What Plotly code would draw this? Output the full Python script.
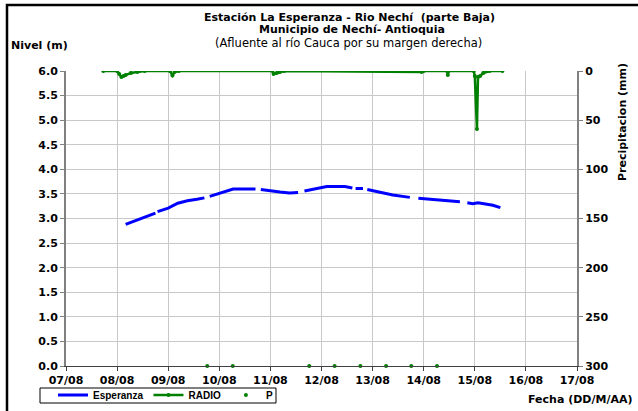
import plotly.graph_objects as go

# ---- Data ----
esp_time = [
    "2018-08-08 04:00", "2018-08-08 12:00", "2018-08-08 18:00", None,
    "2018-08-08 19:00", "2018-08-09 00:00", "2018-08-09 04:30", "2018-08-09 09:00",
    "2018-08-09 13:30", "2018-08-09 17:00", None,
    "2018-08-09 19:30", "2018-08-10 00:00", "2018-08-10 06:30", "2018-08-10 12:00",
    "2018-08-10 17:00", None,
    "2018-08-10 19:30", "2018-08-11 00:00", "2018-08-11 04:30", "2018-08-11 09:00",
    "2018-08-11 13:00", None,
    "2018-08-11 16:00", "2018-08-11 20:00", "2018-08-12 02:30", "2018-08-12 11:00",
    "2018-08-12 14:30", None,
    "2018-08-12 16:00", "2018-08-12 19:30", None,
    "2018-08-12 21:30", "2018-08-13 02:00", "2018-08-13 09:30", "2018-08-13 17:30", None,
    "2018-08-13 21:30", "2018-08-14 03:00", "2018-08-14 07:30", "2018-08-14 12:30",
    "2018-08-14 17:00", None,
    "2018-08-14 20:30", "2018-08-14 23:00", "2018-08-15 01:30", "2018-08-15 05:30",
    "2018-08-15 08:30", "2018-08-15 12:00",
]
esp_level = [
    2.88, 3.02, 3.11, None,
    3.14, 3.21, 3.31, 3.36, 3.39, 3.42, None,
    3.45, 3.51, 3.60, 3.60, 3.60, None,
    3.59, 3.56, 3.54, 3.52, 3.53, None,
    3.56, 3.60, 3.65, 3.65, 3.62, None,
    3.61, 3.61, None,
    3.59, 3.55, 3.48, 3.43, None,
    3.41, 3.39, 3.38, 3.37, 3.34, None,
    3.32, 3.30, 3.32, 3.30, 3.27, 3.22,
]

radio_time = [
    "2018-08-07 17:30", "2018-08-08 00:00", "2018-08-08 01:00", "2018-08-08 02:00",
    "2018-08-08 03:00", "2018-08-08 04:00", "2018-08-08 06:30", "2018-08-08 09:30",
    "2018-08-08 13:00", "2018-08-09 00:50", "2018-08-09 02:00", "2018-08-09 03:00",
    "2018-08-09 05:00", "2018-08-11 01:00", "2018-08-11 01:30", "2018-08-11 03:00",
    "2018-08-11 04:30", "2018-08-11 06:30", "2018-08-13 23:00", "2018-08-14 00:00",
    "2018-08-14 11:00", "2018-08-14 11:20", "2018-08-14 11:40", "2018-08-14 23:30",
    "2018-08-15 00:00", "2018-08-15 01:00", "2018-08-15 01:30", "2018-08-15 02:30",
    "2018-08-15 04:00", "2018-08-15 07:00", "2018-08-15 13:00",
]
radio_mm = [
    0, 0, 3, 6,
    5, 4, 2, 1,
    0, 0, 4.5, 1,
    0, 0, 3, 2,
    1, 0, 1, 0,
    0, 4, 0, 0,
    5, 59, 6, 5,
    2, 0, 0,
]

p_time = [
    "2018-08-09 18:20", "2018-08-10 06:20", "2018-08-11 18:15", "2018-08-12 06:10",
    "2018-08-12 18:15", "2018-08-13 06:20", "2018-08-13 18:10", "2018-08-14 06:15",
]
p_value = [0, 0, 0, 0, 0, 0, 0, 0]

x_range = ["2018-08-07", "2018-08-17"]

SANS = "Liberation Sans, Arial, sans-serif"
WIDE = "DejaVu Sans, Verdana, sans-serif"
GREEN = "#008000"

# pixel -> paper helpers (plot area: x 66..577, y 71..366)
def px(x):
    return (x - 66) / 511


def py(y):
    return (366 - y) / 295


fig = go.Figure()
fig.add_trace(go.Scatter(
    x=esp_time, y=esp_level, name="Esperanza", mode="lines",
    line=dict(color="#0000ff", width=3), connectgaps=False,
))
fig.add_trace(go.Scatter(
    x=radio_time, y=radio_mm, name="RADIO", mode="lines+markers", yaxis="y2",
    line=dict(color=GREEN, width=2.5), marker=dict(color=GREEN, size=4),
))
fig.add_trace(go.Scatter(
    x=p_time, y=p_value, name="P", mode="markers",
    marker=dict(color=GREEN, size=4), cliponaxis=False,
))

tickfont = dict(family=WIDE, size=11, color="black", weight="bold")

fig.update_layout(
    width=638, height=411,
    margin=dict(l=66, r=61, t=71, b=45, autoexpand=False),
    paper_bgcolor="white", plot_bgcolor="white",
    font=dict(family=SANS, size=11, color="black"),
    showlegend=True,
    legend=dict(
        orientation="h", x=px(53), y=py(395), xanchor="left", yanchor="middle",
        borderwidth=0, bgcolor="rgba(0,0,0,0)",
        font=dict(family=SANS, size=10, color="black", weight="bold"),
        itemwidth=30, tracegroupgap=0,
    ),
    xaxis=dict(
        range=x_range, type="date", dtick=86400000, tickformat="%d/%m",
        showgrid=True, gridcolor="#c8c8c8", gridwidth=1,
        showline=True, linecolor="#404040", linewidth=1,
        ticks="outside", ticklen=4, tickcolor="#404040",
        tickfont=tickfont, zeroline=False,
    ),
    yaxis=dict(
        range=[0, 6], dtick=0.5, tickformat=".1f",
        showgrid=True, gridcolor="#c8c8c8", gridwidth=1,
        showline=True, linecolor="#808080", linewidth=2,
        ticks="outside", ticklen=4, tickcolor="#808080",
        tickfont=tickfont, zeroline=False,
    ),
    yaxis2=dict(
        range=[300, 0], dtick=50, overlaying="y", side="right",
        showgrid=False, showline=True, linecolor="#808080", linewidth=2,
        ticks="outside", ticklen=4, tickcolor="#808080",
        tickfont=tickfont, zeroline=False,
    ),
)

annots = [
    dict(text="<b>Estación La Esperanza - Rio Nechí  (parte Baja)</b>", x=px(349), y=py(17), size=11),
    dict(text="<b>Municipio de Nechí- Antioquia</b>", x=px(352), y=py(30), size=11),
    dict(text="(Afluente al río Cauca por su margen derecha)", x=px(348), y=py(43), size=11.5),
]
for a in annots:
    size = a.pop("size")
    fig.add_annotation(xref="paper", yref="paper", showarrow=False,
                       xanchor="center", yanchor="middle",
                       font=dict(family=WIDE, size=size, color="black"), **a)

fig.add_annotation(xref="paper", yref="paper", showarrow=False,
                   x=px(9), y=py(45), xanchor="left", yanchor="middle",
                   text="<b>Nivel (m)</b>", font=dict(family=WIDE, size=11, color="black"))
fig.add_annotation(xref="paper", yref="paper", showarrow=False,
                   x=px(622), y=py(122), xanchor="center", yanchor="middle",
                   textangle=-90, text="<b>Precipitacion (mm)</b>",
                   font=dict(family=WIDE, size=11, color="black"))
fig.add_annotation(xref="paper", yref="paper", showarrow=False,
                   x=px(634), y=py(399), xanchor="right", yanchor="middle",
                   text="<b>Fecha (DD/M/AA)</b>", font=dict(family=WIDE, size=11, color="black"))

# legend frame
fig.add_shape(type="rect", xref="paper", yref="paper",
              x0=px(40), x1=px(276), y0=py(403), y1=py(388),
              line=dict(color="black", width=1), fillcolor="white", layer="below")

# outer chart border (top and left visible in the reference)
fig.add_shape(type="rect", xref="paper", yref="paper",
              x0=px(7), x1=2.0, y0=-2.0, y1=py(5),
              line=dict(color="black", width=2.5), fillcolor="rgba(0,0,0,0)", layer="below")

fig.write_html("out.html", config={"displayModeBar": False},
               post_script="document.body.style.margin='0px';")
